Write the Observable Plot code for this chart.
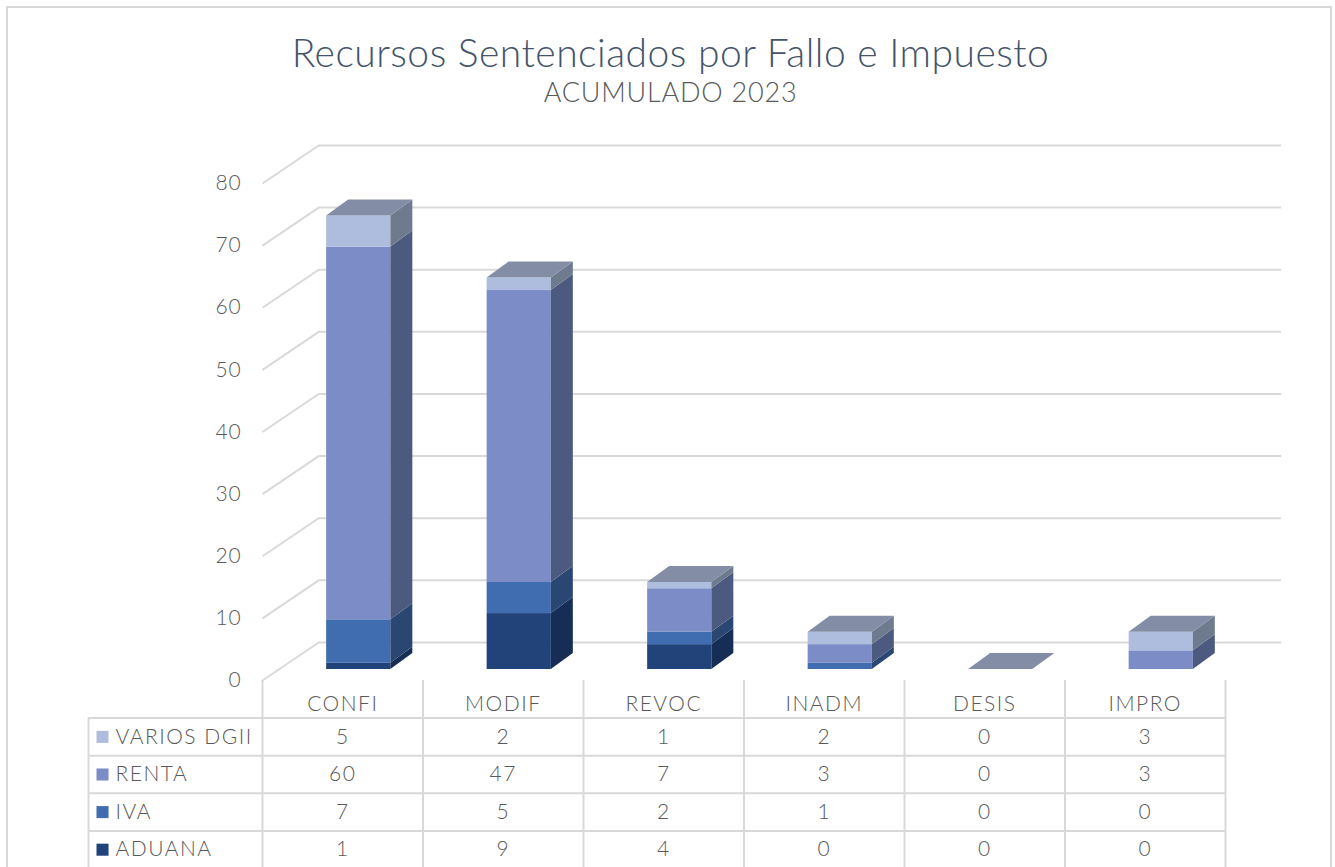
<!DOCTYPE html>
<html>
<head>
<meta charset="utf-8">
<script src="https://cdn.jsdelivr.net/npm/d3@7"></script>
<script src="https://cdn.jsdelivr.net/npm/@observablehq/plot@0.6"></script>
<style>
  html, body { margin: 0; padding: 0; background: #ffffff; }
  body { width: 1335px; height: 867px; position: relative; overflow: hidden; font-family: Lato, "Open Sans", sans-serif; }
  #frame { position: absolute; left: 6px; top: 6px; width: 1326px; height: 900px; border: 2px solid #D9D9D9; box-sizing: border-box; }
  #title { position: absolute; left: 7px; width: 1327px; top: 29px; line-height: 46px; font-size: 39px; letter-spacing: 0.5px; font-weight: 300; color: #44546A; text-align: center; }
  #subtitle { position: absolute; left: 7px; width: 1327px; top: 76px; line-height: 32px; font-size: 27px; letter-spacing: 0.8px; font-weight: 300; color: #595959; text-align: center; }
  #chart { position: absolute; left: 0; top: 110px; }
  #table { position: absolute; left: 0; top: 680px; }
  svg { overflow: visible; }
</style>
</head>
<body>
<div id="frame"></div>
<div id="title">Recursos Sentenciados por Fallo e Impuesto</div>
<div id="subtitle">ACUMULADO 2023</div>
<div id="chart"></div>
<div id="table"></div>
<script>
// ---- data ----
const categories = ["CONFI", "MODIF", "REVOC", "INADM", "DESIS", "IMPRO"];
const seriesNames = ["ADUANA", "IVA", "RENTA", "VARIOS DGII"]; // stacking order, bottom to top
const aduana = [1, 9, 4, 0, 0, 0];
const iva = [7, 5, 2, 1, 0, 0];
const renta = [60, 47, 7, 3, 0, 3];
const varios = [5, 2, 1, 2, 0, 3];
const yTicks = [0, 10, 20, 30, 40, 50, 60, 70, 80];
const tableRows = ["VARIOS DGII", "RENTA", "IVA", "ADUANA"]; // table order, top to bottom

// ---- styles ----
const frontColor = {"ADUANA": "#21437A", "IVA": "#406CB0", "RENTA": "#7B8CC6", "VARIOS DGII": "#AEBDDE"};
const sideColor = {"ADUANA": "#162D56", "IVA": "#2A4672", "RENTA": "#4D5A80", "VARIOS DGII": "#6E7A8E"};
const topColor = "#838EA6";
const gridColor = "#D9D9D9";
const textColor = "#595959";

const valuesBy = {"ADUANA": aduana, "IVA": iva, "RENTA": renta, "VARIOS DGII": varios};

// 3D geometry (in scale units)
const BAR_L = 0.3, BAR_R = 0.7;       // bar front face within the category slot
const DEPTH_X = 0.137, DEPTH_Y = 2.58; // bar depth
const BACK_X = 0.35, BACK_Y = 6.12;    // back wall offset
const PLANE_DX = 16, PLANE_DY = -11;   // bars sit halfway into the floor (pixels)

// build segments from data
const segments = [];
const totals = [];
categories.forEach((c, i) => {
  let lo = 0;
  seriesNames.forEach(s => {
    const v = valuesBy[s][i];
    if (v > 0) segments.push({i, s, lo, hi: lo + v});
    lo += v;
  });
  totals.push({i, top: lo});
});

const sidePts = [];
segments.forEach((d, k) => {
  sidePts.push({z: k, x: d.i + BAR_R, y1: d.lo, y2: d.hi, fill: sideColor[d.s]});
  sidePts.push({z: k, x: d.i + BAR_R + DEPTH_X, y1: d.lo + DEPTH_Y, y2: d.hi + DEPTH_Y, fill: sideColor[d.s]});
});
const topPts = [];
totals.forEach(t => {
  const L = t.i + BAR_L, R = t.i + BAR_R, v = t.top;
  topPts.push({z: t.i, x: L, y1: v, y2: v});
  topPts.push({z: t.i, x: L + DEPTH_X, y1: v, y2: v + DEPTH_Y});
  topPts.push({z: t.i, x: R, y1: v, y2: v + DEPTH_Y});
  topPts.push({z: t.i, x: R + DEPTH_X, y1: v + DEPTH_Y, y2: v + DEPTH_Y});
});

const chart = Plot.plot({
  width: 1335,
  height: 590,
  marginLeft: 262,
  marginRight: 110,
  marginTop: 73,
  marginBottom: 20,
  x: {domain: [0, categories.length], axis: null},
  y: {domain: [0, 80], axis: null},
  color: {type: "identity"},
  style: "font-family: Lato, 'Open Sans', sans-serif; font-weight: 300; background: transparent; overflow: visible; letter-spacing: 0.8px;",
  marks: [
    // back wall gridlines
    Plot.ruleY(yTicks, {y: d => d + BACK_Y, x1: BACK_X, x2: categories.length + BACK_X, stroke: gridColor, strokeWidth: 2}),
    // side wall diagonals
    Plot.link(yTicks, {x1: 0, y1: d => d, x2: BACK_X, y2: d => d + BACK_Y, stroke: gridColor, strokeWidth: 2}),
    // y labels
    Plot.text(yTicks, {x: 0, y: d => d, text: d => String(d), textAnchor: "end", dx: -21, fontSize: 21, fill: textColor}),
    // bar front faces
    Plot.rect(segments, {x1: d => d.i + BAR_L, x2: d => d.i + BAR_R, y1: "lo", y2: "hi", fill: d => frontColor[d.s], dx: PLANE_DX, dy: PLANE_DY}),
    // bar side faces
    Plot.area(sidePts, {x1: "x", y1: "y1", y2: "y2", z: "z", fill: "fill", curve: "linear", dx: PLANE_DX, dy: PLANE_DY}),
    // bar top faces
    Plot.area(topPts, {x1: "x", y1: "y1", y2: "y2", z: "z", fill: topColor, curve: "linear", dx: PLANE_DX, dy: PLANE_DY})
  ]
});
document.getElementById("chart").appendChild(chart);

// ---- data table ----
const LABEL_X = -1.084;
const cells = [];
tableRows.forEach((s, r) => {
  categories.forEach((c, i) => cells.push({i, r, v: valuesBy[s][i]}));
});
const colBounds = d3.range(categories.length + 1);
const rowBounds = d3.range(1, tableRows.length + 2);

const table = Plot.plot({
  width: 1335,
  height: 190,
  x: {domain: [0, categories.length], range: [262, 1225], axis: null},
  y: {domain: [0, tableRows.length + 1], range: [0, 188], axis: null},
  color: {type: "identity"},
  style: "font-family: Lato, 'Open Sans', sans-serif; font-weight: 300; background: transparent; overflow: visible; letter-spacing: 1.5px;",
  marks: [
    Plot.ruleX(colBounds, {x: d => d, y1: 0, y2: tableRows.length + 1, stroke: gridColor, strokeWidth: 2}),
    Plot.ruleX([LABEL_X], {x: d => d, y1: 1, y2: tableRows.length + 1, stroke: gridColor, strokeWidth: 2}),
    Plot.ruleY(rowBounds, {y: d => d, x1: LABEL_X, x2: categories.length, stroke: gridColor, strokeWidth: 2}),
    Plot.text(categories, {x: (d, i) => i + 0.5, y: 0.64, text: d => d, fontSize: 21, fill: textColor}),
    Plot.text(cells, {x: d => d.i + 0.5, y: d => d.r + 1.5, text: d => String(d.v), fontSize: 21, fill: textColor}),
    Plot.dot(tableRows, {x: LABEL_X, y: (d, r) => r + 1.5, dx: 14, symbol: "square", r: 6.8, fill: d => frontColor[d], stroke: null}),
    Plot.text(tableRows, {x: LABEL_X, y: (d, r) => r + 1.5, dx: 27, text: d => d, textAnchor: "start", fontSize: 21, fill: textColor})
  ]
});
document.getElementById("table").appendChild(table);
</script>
</body>
</html>
